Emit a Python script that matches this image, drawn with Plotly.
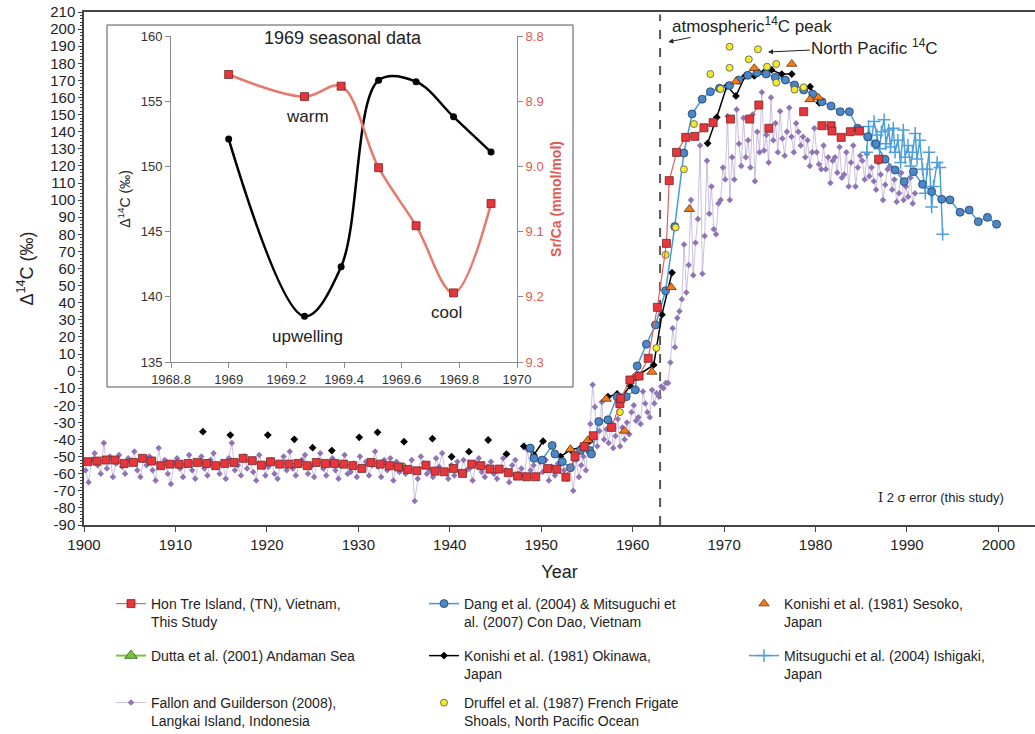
import plotly.graph_objects as go
import numpy as np

# ---------------- main chart data ----------------
hontre_year = [1900.4, 1901.4, 1902.4, 1903.4, 1904.4, 1905.4, 1906.4, 1907.4, 1908.4, 1909.4,
               1910.4, 1911.4, 1912.4, 1913.4, 1914.4, 1915.4, 1916.4, 1917.4, 1918.4, 1919.4,
               1920.4, 1921.4, 1922.4, 1923.4, 1924.4, 1925.4, 1926.4, 1927.4, 1928.4, 1929.4,
               1930.4, 1931.4, 1932.4, 1933.4, 1934.4, 1935.4, 1936.4, 1937.4, 1938.4, 1939.4,
               1940.4, 1941.4, 1942.4, 1943.4, 1944.4, 1945.4, 1946.4, 1947.4, 1948.4, 1949.4,
               1950.7, 1951.7, 1952.7, 1953.7, 1954.7, 1955.7, 1956.7, 1957.7, 1958.6, 1958.7,
               1959.7, 1960.7, 1961.7, 1962.7, 1963.7, 1964.0, 1964.8, 1965.8, 1966.8, 1967.8,
               1968.8, 1969.8, 1970.7, 1971.8, 1972.8, 1973.8, 1974.4, 1974.9, 1976.8, 1978.7,
               1979.7, 1980.7, 1981.7, 1981.8, 1982.8, 1983.8, 1984.8, 1985.9, 1986.9]
hontre_d14c = [-53, -52.6, -52, -52, -54, -53.4, -51, -52.6, -55.3, -54.4,
               -54.4, -54, -53.4, -54, -55.3, -54, -53.4, -51, -52.4, -55,
               -53, -54.4, -54.4, -54, -55.3, -53.4, -54, -54, -54.4, -55.3,
               -56.9, -53.4, -54.4, -55.3, -56, -57.5, -58.3, -55, -58.5, -58.9,
               -56.9, -59.8, -54.4, -55.3, -57.3, -57.3, -59.4, -61.4, -61.8, -61.8,
               -57, -57.4, -62, -50, -44.2, -37.8, None, -32.9, -19, -16,
               -5.2, -2.9, 7.5, 37.3, 74.7, 111.4, 127.9, 136.7, 137.3, 142.3,
               145.3, None, 147.4, None, 147.4, 155.6, None, 142, None, 151.7,
               None, 143.5, 143.5, 140.4, 136.7, 140, 140.4, None, 123.9]

dang_year = [1948.8, 1949.2, 1950.1, 1951.2, 1951.5, 1952.3, 1953.2, 1954.3, 1955.3, 1955.5,
             1956.3, 1957.3, 1958.3, 1959.3, 1960.3, 1960.5, 1961.5, 1962.5, 1963.6, 1964.6,
             1965.6, 1966.5, 1967.6, 1968.5, 1969.5, 1970.6, 1971.6, 1972.6, 1973.6, 1974.6,
             1975.6, 1976.7, 1977.7, 1978.7, 1979.7, 1980.7, 1981.7, 1982.7, 1983.7, 1984.6,
             1985.7, 1986.6, 1987.6, 1988.7, 1989.7, 1990.7, 1991.7, 1992.7, 1993.8, 1994.7,
             1995.8, 1996.8, 1997.8, 1998.8, 1999.8]
dang_d14c = [-45, -51, -52, -43.5, -48.5, -53, -56.5, -46.5, -46.5, -48.5,
             -29.5, -28.5, -15, -15, -11, 3, 15.7, 27, 47, 84.5,
             127.5, 150.4, 159, 163.4, 165.4, 167, 170.2, 173, 174.5, 173.7,
             171.8, 170.2, 167.3, 164.4, 161.9, 157.5, 155, 151.7, 151.7, 142,
             137.1, 132.8, 123.9, 117.6, 110.8, 116.6, 109.2, 105, 100.5, 100.1,
             92.9, 94.2, 87.4, 89.9, 85.9]

sesoko_year = [1953.2, 1955.1, 1957.1, 1959.1, 1960.1, 1962.1, 1964.2, 1966.2, 1971.3, 1973.3,
               1977.4, 1979.4, 1980.3]
sesoko_d14c = [-45.7, -40.5, -16.3, -35, -4, -0.5, 49, 94.7, 169.3, 177.1,
               179.6, 158.9, 160]

dutta_year = [1935.0]
dutta_d14c = [-56.8]

okinawa_year = [1913.0, 1914.5, 1916.0, 1918.0, 1920.1, 1921.5, 1923.0, 1924.0, 1925.0, 1926.0,
                1927.1, 1928.5, 1930.1, 1931.0, 1932.1, 1933.5, 1935.0, 1936.5, 1938.1, 1939.0,
                1940.2, 1941.0, 1942.1, 1943.0, 1944.2, 1945.0, 1946.2, 1947.0,
                1948.1, 1949.2, 1950.2, 1951.0, 1952.1, 1953.2, 1954.4, 1955.3, 1956.3, 1957.3,
                1958.3, 1958.8, 1959.7, 1960.6, 1962.3, 1963.2, 1964.3, 1966.0,
                1968.2, 1969.2, 1970.3, 1971.3, 1972.3, 1973.3, 1974.3, 1975.2, 1976.3, 1977.4,
                1978.4, 1979.4, 1980.4]
okinawa_d14c = [-35.4, None, -37.4, None, -37.4, None, -39.9, None, -44.8, None,
                -46.5, None, -38.7, None, -35.8, None, -41.3, None, -39.5, None,
                -50.1, None, -47.1, None, -40.3, None, -48.5, None,
                -44, -49, -41, None, -50, -46, -44.6, -41, None, -15,
                -13.4, -15.3, -8.5, -2.3, 3.6, 33, 57.5, None,
                133.2, 148.4, 166.7, 160.9, 172.6, 172.6, 174.5, 176.1, 173.7, 173.7,
                None, 166.3, 156.9]

ishigaki_year = [1985.6, 1985.8, 1986.1, 1986.4, 1986.7, 1987.0, 1987.2, 1987.5, 1987.7, 1988.0,
                 1988.2, 1988.5, 1988.7, 1989.0, 1989.3, 1989.6, 1989.8, 1990.1, 1990.4, 1990.6,
                 1990.9, 1991.1, 1991.4, 1991.7, 1992.0, 1992.2, 1992.4, 1992.7, 1992.9, 1993.3,
                 1993.6, 1993.9]
ishigaki_d14c = [128, 143, 135, 146, 138, 130, 140, 147, 133, 141,
                 131, 142, 128, 135, 122, 141, 125, 132, 120, 128,
                 139, 124, 135, 118, 104, 118, 128, 96, 108, 122,
                 119, 80]

druffel_year = [1958.6, 1962.6, 1963.6, 1964.7, 1965.6, 1966.7, 1968.5, 1969.6, 1970.6, 1970.6,
                1972.7, 1973.7, 1974.7, 1975.7, 1975.7, 1977.7, 1978.7]
druffel_d14c = [-24, 13.5, 68, 84, 118, 144.5, 173.7, 165, 189.7, 177.4,
                182.3, 188.2, 178, 179.6, 168.7, 164.6, 166]

# Fallon & Guilderson (Langkai): three readings per year 1900-1953
fallon_early_start = 1900
fallon_early = [
    [-58, -65, -52], [-48, -55, -60], [-42, -57, -50], [-62, -54, -49], [-56, -60, -51],
    [-53, -47, -58], [-62, -52, -55], [-50, -58, -64], [-45, -56, -52], [-60, -66, -54],
    [-51, -57, -62], [-55, -49, -58], [-63, -53, -50], [-57, -61, -52], [-48, -56, -60],
    [-54, -63, -51], [-42, -58, -55], [-61, -50, -57], [-53, -59, -64], [-49, -55, -61],
    [-56, -52, -60], [-63, -54, -50], [-58, -47, -57], [-61, -55, -52], [-49, -60, -56],
    [-62, -53, -48], [-57, -61, -54], [-51, -58, -63], [-55, -49, -60], [-59, -54, -62],
    [-50, -57, -53], [-61, -55, -47], [-56, -62, -52], [-58, -51, -64], [-53, -59, -56],
    [-60, -57, -52], [-76, -63, -50], [-54, -60, -58], [-62, -51, -56], [-48, -59, -63],
    [-55, -61, -53], [-60, -52, -58], [-57, -64, -54], [-51, -59, -62], [-56, -53, -60],
    [-63, -57, -51], [-58, -65, -55], [-52, -60, -57], [-61, -46, -58], [-55, -62, -53],
    [-59, -52, -64], [-56, -61, -54], [-50, -58, -63], [-57, -70, -52]]
# four readings per year 1954-1990
fallon_late_start = 1954
fallon_late = [
    [-62, -55, -50, -58], [-45, -31, -8, -21], [-44, -35, -18, -40], [-34, -42, -30, -45],
    [-38, -28, -44, -33], [-40, -30, -37, -24], [-20, -29, -27, -31], [-12, -19, -24, -27],
    [-11, -19, -13, -15], [-9, -10, -7, -7], [5, 25, 14, 31], [35, 42, 74, 46],
    [62, 100, 56, 75], [89, 132, 57, 79], [123, 92, 108, 83], [80, 98, 100, 119],
    [112, 149, 100, 125], [112, 153, 133, 120], [148, 125, 135, 119], [150, 111, 140, 128],
    [163, 129, 138, 122], [160, 135, 145, 128], [152, 136, 126, 140], [154, 137, 128, 145],
    [140, 132, 137, 125], [135, 120, 128, 142], [128, 121, 118, 132], [118, 125, 110, 123],
    [125, 116, 131, 113], [115, 128, 108, 122], [132, 108, 119, 126], [123, 112, 127, 114],
    [119, 111, 106, 122], [115, 100, 109, 118], [120, 106, 112, 99], [104, 116, 100, 108],
    [102, 113, 98, 104]]

# ---------------- inset data (1969 seasonal) ----------------
inset_time = [1969.0, 1969.263, 1969.39, 1969.52, 1969.65, 1969.78, 1969.91]
inset_d14c = [152.1, 138.5, 142.3, 156.6, 156.5, 153.8, 151.1]
inset_srca = [8.859, 8.893, 8.877, 9.002, 9.091, 9.194, 9.057]

ytick_vals = list(range(-90, 211, 10))
ytick_text = [str(v) for v in ytick_vals]
xtick_vals = list(range(1900, 2001, 10))
inset_xticks = [1968.8, 1969.0, 1969.2, 1969.4, 1969.6, 1969.8, 1970.0]
inset_xtext = ["1968.8", "1969", "1969.2", "1969.4", "1969.6", "1969.8", "1970"]

# build Fallon series (sampling within each year)
fal_x, fal_y = [], []
for i, row in enumerate(fallon_early):
    for k, v in enumerate(row):
        fal_x.append(fallon_early_start + i + (k + 0.5) / len(row))
        fal_y.append(v)
for i, row in enumerate(fallon_late):
    for k, v in enumerate(row):
        fal_x.append(fallon_late_start + i + (k + 0.5) / len(row))
        fal_y.append(v)

FONT = "Liberation Sans, Arial, Helvetica, sans-serif"
fig = go.Figure()

fig.add_trace(go.Scatter(x=fal_x, y=fal_y, mode="lines+markers",
                         name="Fallon and Guilderson (2008),<br>Langkai Island, Indonesia",
                         line=dict(color="rgba(175,158,208,0.65)", width=1),
                         marker=dict(symbol="diamond", size=5, color="#8f74b6"),
                         legend="legend7"))
fig.add_trace(go.Scatter(x=ishigaki_year, y=ishigaki_d14c, mode="lines+markers",
                         name="Mitsuguchi et al. (2004) Ishigaki,<br>Japan",
                         line=dict(color="#4f9fda", width=1.5),
                         marker=dict(symbol="cross-thin", size=9, line=dict(color="#4f9fda", width=1.5)),
                         legend="legend6"))
fig.add_trace(go.Scatter(x=okinawa_year, y=okinawa_d14c, mode="lines+markers",
                         name="Konishi et al. (1981) Okinawa,<br>Japan",
                         line=dict(color="black", width=1.5),
                         marker=dict(symbol="diamond", size=6, color="black"),
                         legend="legend5"))
fig.add_trace(go.Scatter(x=dang_year, y=dang_d14c, mode="lines+markers",
                         name="Dang et al. (2004) & Mitsuguchi et<br>al. (2007) Con Dao, Vietnam",
                         line=dict(color="#4a9ad6", width=1.5),
                         marker=dict(symbol="circle", size=8, color="#4a86c8",
                                     line=dict(color="#23405f", width=0.8)),
                         legend="legend2"))
fig.add_trace(go.Scatter(x=druffel_year, y=druffel_d14c, mode="markers",
                         name="Druffel et al. (1987) French Frigate<br>Shoals, North Pacific Ocean",
                         marker=dict(symbol="circle", size=7, color="#f3ea2c",
                                     line=dict(color="#555555", width=0.8)),
                         legend="legend8"))
fig.add_trace(go.Scatter(x=sesoko_year, y=sesoko_d14c, mode="markers",
                         name="Konishi et al. (1981) Sesoko,<br>Japan",
                         marker=dict(symbol="triangle-up", size=9, color="#f27a1e",
                                     line=dict(color="#6a3000", width=0.8)),
                         legend="legend3"))
fig.add_trace(go.Scatter(x=dutta_year, y=dutta_d14c, mode="lines+markers",
                         name="Dutta et al. (2001) Andaman Sea",
                         line=dict(color="#7cc242", width=2),
                         marker=dict(symbol="triangle-up", size=11, color="#7cc242",
                                     line=dict(color="#2a5a10", width=0.8)),
                         legend="legend4"))
fig.add_trace(go.Scatter(x=hontre_year, y=hontre_d14c, mode="lines+markers",
                         name="Hon Tre Island, (TN), Vietnam,<br>This Study",
                         line=dict(color="#e0605a", width=1.2),
                         marker=dict(symbol="square", size=8, color="#e8353b",
                                     line=dict(color="#6e2a2a", width=0.8)),
                         legend="legend"))

# inset traces
fig.add_trace(go.Scatter(x=inset_time, y=inset_d14c, mode="lines+markers", xaxis="x2", yaxis="y2",
                         line=dict(color="black", width=2.5, shape="spline", smoothing=1),
                         marker=dict(symbol="circle", size=7, color="black"),
                         showlegend=False))
fig.add_trace(go.Scatter(x=inset_time, y=inset_srca, mode="lines+markers", xaxis="x2", yaxis="y3",
                         line=dict(color="#e8776c", width=2.5, shape="spline", smoothing=1),
                         marker=dict(symbol="square", size=8, color="#e8353b",
                                     line=dict(color="#6e2a2a", width=0.8)),
                         showlegend=False))

def px2paperx(px):
    return (px - 84) / 951.0

def px2papery(py):
    return (525 - py) / 513.0

# (left pixel, pixel of legend centre)
legend_pos = {
    "legend": (111, 613), "legend2": (424, 613), "legend3": (744, 613),
    "legend4": (111, 656), "legend5": (424, 665), "legend6": (744, 665),
    "legend7": (111, 712), "legend8": (424, 712),
}
legends = {}
for key, (lx, ly) in legend_pos.items():
    legends[key] = dict(x=px2paperx(lx), y=px2papery(ly), xanchor="left", yanchor="middle",
                        bgcolor="rgba(0,0,0,0)", orientation="v", itemwidth=30, valign="top",
                        font=dict(family=FONT, size=14, color="#222"))

fig.update_layout(
    width=1035, height=734,
    margin=dict(l=84, r=0, t=12, b=209, autoexpand=False),
    paper_bgcolor="white", plot_bgcolor="white",
    font=dict(family=FONT, color="#222"),
    xaxis=dict(range=[1900, 2004], tickvals=xtick_vals, ticks="outside", ticklen=5,
               showline=True, linecolor="#444", linewidth=1.5, mirror=True, automargin=False,
               ticklabeloverflow="allow",
               showgrid=False, zeroline=False, tickfont=dict(size=15, color="#222"),
               title=dict(text="Year", font=dict(size=18, color="#222"), standoff=14)),
    yaxis=dict(range=[-90, 210], tickvals=ytick_vals, ticktext=ytick_text, ticks="outside",
               ticklen=4, showline=True, linecolor="#444", linewidth=1.5, automargin=False,
               ticklabeloverflow="allow",
               showgrid=False, zeroline=False, tickfont=dict(size=15, color="#222"),
               minor=dict(tick0=-90, dtick=2, ticks="outside", ticklen=2, tickcolor="#444", showgrid=False),
               title=dict(text="Δ<sup>14</sup>C (‰)", font=dict(size=18, color="#222"), standoff=12)),
    xaxis2=dict(domain=[px2paperx(171), px2paperx(517)], anchor="y2", range=[1968.8, 1970],
                tickvals=inset_xticks, ticktext=inset_xtext, ticks="outside", ticklen=5, automargin=False,
                showline=True, linecolor="#8a8a8a", tickcolor="#8a8a8a", showgrid=False, zeroline=False,
                tickfont=dict(size=13, color="#333")),
    yaxis2=dict(domain=[px2papery(362), px2papery(36)], anchor="x2", range=[135, 160], dtick=5,
                ticks="outside", ticklen=5, showline=True, linecolor="#8a8a8a", tickcolor="#8a8a8a",
                showgrid=False, zeroline=False, tickfont=dict(size=13, color="#333"), automargin=False,
                title=dict(text="Δ<sup>14</sup>C (‰)", font=dict(size=14, color="#222"), standoff=6)),
    yaxis3=dict(overlaying="y2", anchor="x2", side="right", range=[9.3, 8.8],
                tickvals=[8.8, 8.9, 9.0, 9.1, 9.2, 9.3], ticktext=["8.8", "8.9", "9.0", "9.1", "9.2", "9.3"],
                ticks="outside", ticklen=5, showline=True, linecolor="#8a8a8a", tickcolor="#8a8a8a",
                showgrid=False, zeroline=False, tickfont=dict(size=13, color="#e05a50"), automargin=False,
                title=dict(text="<b>Sr/Ca (mmol/mol)</b>", font=dict(size=14, color="#e05a50"), standoff=8)),
    **legends,
)

# inset frame and atmospheric peak line
fig.add_shape(type="rect", xref="paper", yref="paper",
              x0=px2paperx(107), x1=px2paperx(573), y0=px2papery(387), y1=px2papery(25),
              line=dict(color="#555", width=1), fillcolor="white", layer="below")
fig.add_shape(type="line", xref="x", yref="paper", x0=1963, x1=1963, y0=0, y1=0.995,
              line=dict(color="#555", width=2, dash="dash"), layer="below")

ann = []
# labelled arrows: arrow tip in data coords, text centre offset in pixels
ann.append(dict(xref="x", yref="y", x=1963.9, y=192.5, ax=84, ay=-17, showarrow=True,
                text="atmospheric<sup>14</sup>C peak", font=dict(size=17, color="#222"),
                arrowhead=2, arrowsize=1, arrowwidth=1, arrowcolor="#222", standoff=0))
ann.append(dict(xref="x", yref="y", x=1974.8, y=186.6, ax=107, ay=-5, showarrow=True,
                text="North Pacific <sup>14</sup>C", font=dict(size=17, color="#222"),
                arrowhead=2, arrowsize=1, arrowwidth=1, arrowcolor="#222", standoff=0))
ann.append(dict(xref="paper", yref="paper", x=px2paperx(876), y=px2papery(497), xanchor="left",
                yanchor="middle", showarrow=False,
                text="<span style='font-family:DejaVu Serif'>I</span> 2 σ error (this study)",
                font=dict(size=13, color="#222")))
ann.append(dict(xref="x2", yref="y2", x=1969.397, y=159.85, text="1969 seasonal data",
                showarrow=False, font=dict(size=18, color="#222")))
ann.append(dict(xref="x2", yref="y2", x=1969.275, y=153.79, text="warm",
                showarrow=False, font=dict(size=17, color="#222")))
ann.append(dict(xref="x2", yref="y2", x=1969.275, y=136.99, text="upwelling",
                showarrow=False, font=dict(size=17, color="#222")))
ann.append(dict(xref="x2", yref="y2", x=1969.754, y=138.83, text="cool",
                showarrow=False, font=dict(size=17, color="#222")))
fig.update_layout(annotations=ann)

# remove the page's default body margin so the figure fills the window exactly
fig.write_html("out.html", config={"displayModeBar": False},
               post_script="document.body.style.margin='0px';")
